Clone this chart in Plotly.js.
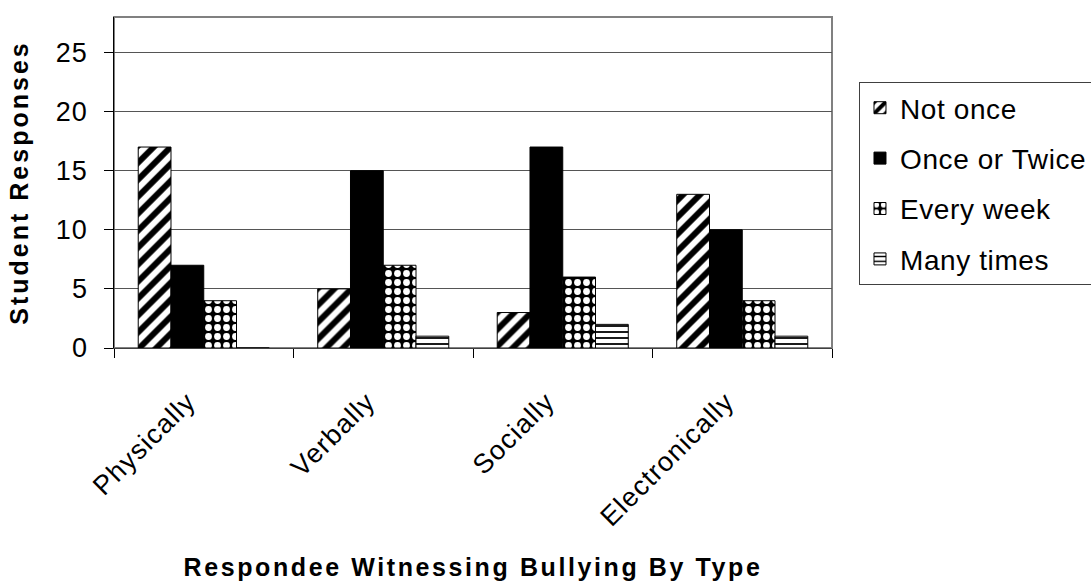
<!DOCTYPE html>
<html>
<head>
<meta charset="utf-8">
<script src="https://cdn.plot.ly/plotly-3.0.1.min.js"></script>
<style>
  html, body { margin: 0; padding: 0; background: #fff; }
  #chart { width: 1091px; height: 586px; }
  .xtick text, .ytick text { letter-spacing: 1.2px; }
  .legendtext { letter-spacing: 0.6px; }
  .g-xtitle text { letter-spacing: 2.6px; }
  .g-ytitle text { letter-spacing: 3px; }
</style>
</head>
<body>
<div id="chart"></div>
<script>
// Bullying types witnessed by respondents, counts per frequency answer
const categories = ["Physically", "Verbally", "Socially", "Electronically"];
const notOnce      = [17, 5, 3, 13];
const onceOrTwice  = [7, 15, 17, 10];
const everyWeek    = [4, 7, 6, 4];
const manyTimes    = [0, 1, 2, 1];
const seriesNames  = ["Not once", "Once or Twice", "Every week", "Many times"];
const yTicks       = [0, 5, 10, 15, 20, 25];

const FONT = "Liberation Sans, Arial, sans-serif";

// Black-and-white print styles for each series
const fills = [
  { color: "#ffffff", pattern: { shape: "/", fgcolor: "#000000", bgcolor: "#ffffff", size: 12, solidity: 0.5 } },
  { color: "#000000", pattern: { shape: "" } },
  { color: "#000000", pattern: { shape: ".", fgcolor: "#ffffff", bgcolor: "#000000", size: 9, solidity: 0.45 } },
  { color: "#ffffff", pattern: { shape: "-", fgcolor: "#000000", bgcolor: "#ffffff", size: 6, solidity: 0.3 } }
];

const values = [notOnce, onceOrTwice, everyWeek, manyTimes];

const traces = values.map((v, i) => ({
  type: "bar",
  name: seriesNames[i],
  x: categories,
  y: v,
  legendgroup: "g" + i,
  marker: {
    color: fills[i].color,
    pattern: fills[i].pattern,
    line: { color: "#000000", width: 1 }
  },
  hoverinfo: "x+y+name"
}));

const layout = {
  width: 1091,
  height: 586,
  paper_bgcolor: "#ffffff",
  plot_bgcolor: "#ffffff",
  margin: { l: 114, r: 259, t: 17, b: 238, autoexpand: false },
  barmode: "group",
  bargap: 0.27,
  bargroupgap: 0,
  showlegend: true,
  font: { family: FONT, color: "#000000" },
  xaxis: {
    type: "category",
    categoryorder: "array",
    categoryarray: categories,
    tickson: "boundaries",
    ticks: "outside",
    ticklen: 9,
    tickcolor: "#000000",
    showline: true,
    linecolor: "#404040",
    linewidth: 1,
    showgrid: false,
    tickangle: -45,
    tickfont: { family: FONT, size: 27, color: "#000000" },
    ticklabelstandoff: 26,
    ticklabelshift: -16,
    automargin: false,
    title: {
      text: "Respondee Witnessing Bullying By Type",
      font: { family: FONT, size: 25, color: "#000000", weight: "bold" },
      standoff: 27
    }
  },
  yaxis: {
    range: [0, 28],
    tickvals: yTicks,
    ticks: "outside",
    ticklen: 9,
    tickcolor: "#000000",
    showline: true,
    linecolor: "#000000",
    linewidth: 1.5,
    showgrid: true,
    gridcolor: "#555555",
    gridwidth: 1,
    zeroline: false,
    tickfont: { family: FONT, size: 27, color: "#000000" },
    ticklabelstandoff: 10,
    automargin: false,
    title: {
      text: "Student Responses",
      font: { family: FONT, size: 25, color: "#000000", weight: "bold" },
      standoff: 20
    }
  },
  legend: {
    x: 1.0376,
    xanchor: "left",
    y: 0.8036,
    yanchor: "top",
    traceorder: "grouped",
    tracegroupgap: 11,
    bgcolor: "#ffffff",
    bordercolor: "#404040",
    borderwidth: 1,
    font: { family: FONT, size: 28, color: "#000000" }
  },
  shapes: [
    {
      type: "rect", xref: "paper", yref: "paper",
      x0: 0, x1: 1, y0: 0, y1: 1,
      line: { color: "#808080", width: 2 },
      layer: "below"
    }
  ]
};

Plotly.newPlot("chart", traces, layout, { staticPlot: true, displayModeBar: false });
</script>
</body>
</html>
